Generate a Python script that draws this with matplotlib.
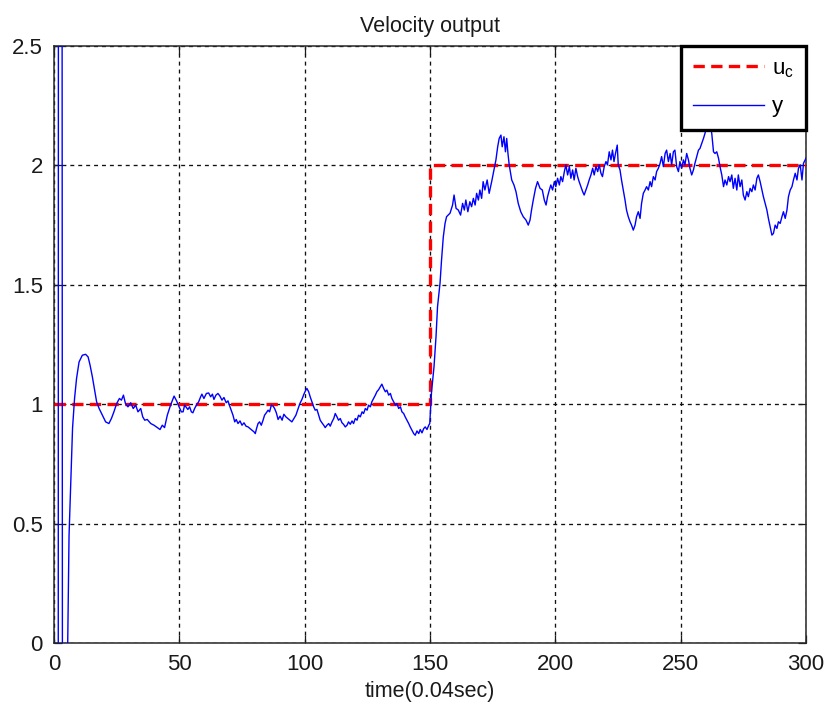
import matplotlib
matplotlib.use("Agg")
import matplotlib.pyplot as plt

plt.rcParams['font.family'] = ['Liberation Sans', 'DejaVu Sans']

# reference command u_c (step at t = 150)
t_uc = [0, 150, 150, 300]
u_c = [1.0, 1.0, 2.0, 2.0]

t_y = [0, 1, 2, 3, 4, 5, 6, 7, 7.4, 8.2, 9.0, 10.0, 11.3, 12.6, 13.6, 14.4, 15.3, 16.2, 17.0,
       18.0, 19.3, 20.6, 21.9, 22.9, 23.9, 25.0, 26.1, 26.9, 27.7, 28.5, 29.5, 30.6, 31.6, 32.6,
       33.5, 34.6, 35.4, 36.2, 37.2, 38.6, 39.9, 41.2, 42.3, 43.2, 44.1, 45.2, 46.5, 47.9, 48.9,
       49.9, 50.8,
       51.5, 52.1, 52.8, 53.4, 54.1, 54.8, 55.4, 56.1, 56.8, 57.7, 58.5, 59.0, 59.8, 60.8, 61.7,
       62.5, 63.2, 63.8, 64.6, 65.4, 66.2, 67.0, 67.8, 68.7, 69.4, 70.1, 70.7, 71.4, 72.1, 72.7,
       73.4, 74.2, 75.0, 75.8, 76.6, 77.4, 78.2, 79.0, 79.8, 80.3, 80.8, 81.4, 82.0, 82.7, 83.4,
       84.0, 84.7, 85.4, 86.0, 86.7, 87.4, 88.0, 88.7, 89.4, 90.2, 91.0, 91.7, 92.5, 93.3, 94.1,
       94.9, 95.7, 96.5, 97.3, 98.1, 98.9, 99.7,
       100.3, 100.9, 101.6, 102.2, 102.9, 103.6, 104.2, 104.9, 105.6, 106.2, 106.9, 107.6, 108.2,
       108.9, 109.6, 110.2, 110.9, 111.6, 112.2, 112.9, 113.5, 114.2, 114.9, 115.5, 116.2, 116.9,
       117.5, 118.2, 118.9, 119.5, 120.2, 120.9, 121.5, 122.2, 122.9, 123.5, 124.2, 124.9, 125.5,
       126.2, 126.8, 127.5, 128.2, 128.8, 129.5, 130.2, 130.8, 131.5, 132.2, 132.8, 133.5, 134.2,
       134.8, 135.5, 136.2, 136.8, 137.5, 138.2, 138.8, 139.5, 140.1, 140.8, 141.5, 142.1, 142.8,
       143.5, 144.1, 144.8, 145.5, 146.1, 146.8, 147.5, 148.1, 148.8, 149.5, 149.9,
       150.6, 151.6, 152.4, 153.0, 154.0, 154.6, 155.3, 156.0, 156.6, 158.0, 159.0, 159.6, 160.4,
       161.3, 162.2, 163.0, 163.7, 164.3, 165.1, 165.9, 166.6, 167.3, 168.0, 168.6, 169.3, 169.9,
       170.6, 171.2, 171.9, 172.8, 173.6, 174.6, 175.5, 176.3, 177.0, 177.6, 178.3, 178.8, 179.5,
       180.1, 180.6, 181.1, 181.6, 182.6, 183.5, 184.3, 185.2, 186.2, 187.2, 188.3, 189.2, 189.9,
       190.5, 191.2, 192.1, 192.9, 193.9, 194.8, 195.6, 196.3, 196.9, 197.6, 198.2, 198.9, 199.6,
       200.2, 200.9, 201.6, 202.2, 202.9, 203.6, 204.2, 204.9, 205.6, 206.2, 206.9, 207.5, 208.2,
       208.9, 209.5, 210.2, 210.9, 211.5, 212.2, 212.9, 213.5, 214.2, 214.9, 215.5, 216.2, 216.9,
       217.5, 218.2, 218.8, 219.5, 220.2, 220.8, 221.5, 222.2, 222.8, 223.4, 224.0, 224.7, 225.1,
       225.8, 226.4, 227.1, 227.8, 228.4, 229.1, 229.8, 230.4, 231.1, 231.8, 232.4, 233.1, 233.8,
       234.4, 235.1, 235.8, 236.4, 237.1, 237.8, 238.4, 239.1, 239.8, 240.4, 241.1, 241.8, 242.4,
       243.1, 243.8, 244.4, 245.1, 245.8, 246.4, 247.1, 247.7, 248.4, 249.1, 249.7, 250.4, 251.1,
       251.7, 252.4, 253.1, 253.7, 254.4, 255.1, 255.7, 256.4, 257.1, 257.7, 258.4, 259.1, 259.7,
       260.4, 261.2, 262.4, 263.1, 263.7, 264.4, 265.1, 265.7, 266.4, 267.1, 267.7, 268.4, 269.1,
       269.7, 270.4, 271.0, 271.7, 272.4, 273.0, 273.7, 274.4, 275.0, 275.7, 276.4, 277.0, 277.7,
       278.4, 279.0, 279.7, 280.4, 281.0, 281.7, 282.4, 283.0, 283.7, 284.4, 285.0, 285.7, 286.4,
       287.0, 287.7, 288.4, 289.0, 289.7, 290.4, 291.0, 291.7, 292.4, 293.0, 293.7, 294.4, 295.0,
       295.7, 296.4, 297.0, 297.7, 298.4, 299.0, 300.0]

y_out = [0.0, -35.0, 15.0, 8.0, -15.0, -0.4, 0.45, 0.78, 0.90, 1.024, 1.108, 1.177, 1.205, 1.209,
         1.198, 1.163, 1.115, 1.059, 1.010, 0.982, 0.954, 0.926, 0.919, 0.940, 0.968, 1.003, 1.024,
         1.017, 1.038, 1.003, 0.989, 1.006, 0.982, 0.996, 0.968, 0.982, 0.947, 0.933, 0.936, 0.919,
         0.912, 0.902, 0.894, 0.912, 0.902, 0.954, 0.996, 1.034, 1.014, 0.989, 0.968,
         0.968, 0.996, 0.986, 0.978, 0.989, 0.968, 0.964, 0.982, 0.996, 1.010, 1.031, 1.042, 1.024,
         1.045, 1.047, 1.031, 1.042, 1.020, 1.038, 1.045, 1.034, 1.017, 1.028, 1.006, 1.014, 0.992,
         0.975, 0.954, 0.926, 0.936, 0.919, 0.930, 0.912, 0.922, 0.908, 0.905, 0.898, 0.891, 0.884,
         0.877, 0.898, 0.919, 0.926, 0.912, 0.933, 0.954, 0.964, 0.975, 0.968, 0.996, 0.992, 0.982,
         0.964, 0.936, 0.950, 0.933, 0.958, 0.947, 0.940, 0.933, 0.926, 0.940, 0.954, 0.978, 1.003,
         1.020, 1.042,
         1.056, 1.066, 1.052, 1.031, 1.010, 0.989, 0.975, 0.978, 0.954, 0.933, 0.922, 0.912, 0.902,
         0.912, 0.919, 0.908, 0.926, 0.940, 0.961, 0.947, 0.933, 0.940, 0.922, 0.916, 0.905, 0.912,
         0.926, 0.916, 0.930, 0.919, 0.940, 0.933, 0.954, 0.947, 0.968, 0.961, 0.982, 0.975, 0.996,
         0.989, 1.010, 1.024, 1.038, 1.052, 1.061, 1.073, 1.084, 1.066, 1.052, 1.059, 1.038, 1.045,
         1.024, 1.010, 0.996, 1.003, 0.982, 0.989, 0.968, 0.961, 0.947, 0.933, 0.919, 0.905, 0.891,
         0.877, 0.870, 0.888, 0.877, 0.894, 0.880, 0.898, 0.905, 0.894, 0.912, 0.919,
         1.050, 1.157, 1.283, 1.408, 1.507, 1.603, 1.700, 1.757, 1.785, 1.800, 1.834, 1.876, 1.820,
         1.813, 1.792, 1.841, 1.813, 1.855, 1.806, 1.848, 1.827, 1.862, 1.834, 1.883, 1.855, 1.897,
         1.862, 1.932, 1.897, 1.939, 1.883, 1.932, 1.981, 2.023, 2.078, 2.113, 2.127, 2.078, 2.120,
         2.057, 2.113, 2.050, 2.002, 1.939, 1.918, 1.890, 1.841, 1.806, 1.785, 1.771, 1.750, 1.771,
         1.813, 1.855, 1.904, 1.932, 1.904, 1.897, 1.855, 1.834, 1.869, 1.897, 1.918, 1.897, 1.932,
         1.911, 1.946, 1.918, 1.953, 1.932, 1.974, 2.002, 1.960, 1.995, 1.946, 1.981, 1.939, 1.988,
         1.953, 1.932, 1.911, 1.890, 1.876, 1.897, 1.918, 1.939, 1.960, 1.988, 1.960, 1.995, 1.974,
         2.002, 1.967, 1.953, 1.995, 2.016, 2.002, 2.057, 2.023, 2.064, 2.016, 2.050, 2.085, 2.002,
         1.981, 1.939, 1.897, 1.855, 1.813, 1.785, 1.764, 1.750, 1.729, 1.750, 1.785, 1.806, 1.778,
         1.841, 1.883, 1.897, 1.911, 1.897, 1.932, 1.911, 1.953, 1.939, 1.974, 1.988, 2.009, 2.037,
         1.995, 2.050, 2.064, 2.016, 2.050, 2.002, 2.057, 2.064, 1.995, 1.974, 2.016, 1.988, 2.023,
         2.002, 2.050, 2.023, 1.988, 1.960, 1.981, 2.009, 2.037, 2.064, 2.071, 2.092, 2.113, 2.134,
         2.162, 2.200, 2.134, 2.057, 2.050, 2.057, 2.030, 1.995, 1.960, 1.911, 1.939, 1.918, 1.953,
         1.932, 1.960, 1.904, 1.946, 1.897, 1.960, 1.911, 1.939, 1.876, 1.855, 1.890, 1.869, 1.904,
         1.890, 1.918, 1.897, 1.946, 1.960, 1.932, 1.897, 1.869, 1.841, 1.813, 1.778, 1.743, 1.708,
         1.715, 1.750, 1.736, 1.764, 1.757, 1.785, 1.806, 1.778, 1.813, 1.869, 1.897, 1.911, 1.939,
         1.967, 1.939, 1.988, 2.002, 1.939, 2.009, 2.030]

x_ticks = [0, 50, 100, 150, 200, 250, 300]
y_ticks = [0, 0.5, 1, 1.5, 2, 2.5]

fig = plt.figure(figsize=(8.25, 7.02), dpi=100, facecolor='white')
ax = fig.add_axes([54 / 825, 59 / 702, 752 / 825, 597 / 702])

ax.plot(t_uc, u_c, color='#ff0000', linewidth=2.4, dashes=(3.4, 1.9), label=r'$\mathregular{u_c}$', zorder=3)
ax.plot(t_y, y_out, color='#0000ff', linewidth=1.0, label='y', zorder=4)

ax.set_xlim(0, 300)
ax.set_ylim(0, 2.5)
ax.set_xticks(x_ticks)
ax.set_yticks(y_ticks)
ax.set_xticklabels([str(v) for v in x_ticks])
ax.set_yticklabels(['0', '0.5', '1', '1.5', '2', '2.5'])

ax.grid(True, color='#111111', linestyle=(0, (3, 3)), linewidth=0.95)
for g in ax.get_xgridlines() + ax.get_ygridlines():
    g.set_zorder(1)

ax.tick_params(direction='in', length=6, width=0.9, top=True, right=True,
               labelsize=16, colors='#1a1a1a', pad=8)
for s in ax.spines.values():
    s.set_color('#262626')
    s.set_linewidth(1.1)

ax.set_title('Velocity output', fontsize=15.5, color='#1a1a1a', pad=10)
ax.set_xlabel('time(0.04sec)', fontsize=15.5, color='#1a1a1a', labelpad=4)

leg = ax.legend(loc='upper right', borderaxespad=0, fancybox=False, framealpha=1,
                edgecolor='black', fontsize=16, handlelength=3.2, handletextpad=0.35,
                borderpad=0.55, labelspacing=0.75)
leg.get_frame().set_linewidth(2.4)
leg.set_zorder(10)

fig.savefig('out.png', dpi=100, facecolor='white')
